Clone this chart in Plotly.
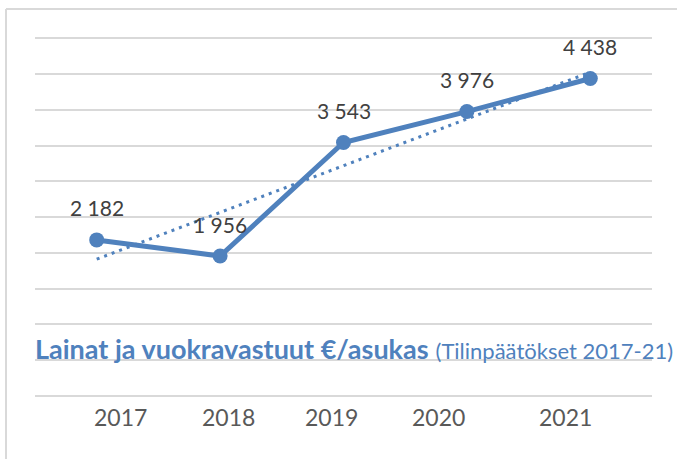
import numpy as np
import plotly.graph_objects as go

years = ["2017", "2018", "2019", "2020", "2021"]
values = [2182, 1956, 3543, 3976, 4438]
title_main = "Lainat ja vuokravastuut €/asukas"
title_sub = "(Tilinpäätökset 2017-21)"

# label pixel offsets for the year labels (style only)
year_label_shift = [24, 8, -12, -28, -25]

BLUE = "#4F81BD"
GRID = "#D9D9D9"
FONT = "Lato"

W, H = 677, 459
ML, MR, MT, MB = 35, 25, 35, 63
pw, ph = W - ML - MR, H - MT - MB

idx = np.arange(1, len(values) + 1)
slope, intercept = np.polyfit(idx, values, 1)
trend = slope * idx + intercept

fig = go.Figure()
fig.add_trace(go.Scatter(x=years, y=trend, mode="lines",
                         line=dict(color=BLUE, width=3, dash="3px,5px"),
                         hoverinfo="skip", showlegend=False))
fig.add_trace(go.Scatter(x=years, y=values, mode="lines+markers",
                         line=dict(color=BLUE, width=5),
                         marker=dict(color=BLUE, size=15),
                         showlegend=False))

annotations = []
for i, v in enumerate(values):
    annotations.append(dict(x=i, y=v, xref="x", yref="y",
                            text=f"{v:,}".replace(",", "\u00a0"),
                            showarrow=False, yshift=32,
                            font=dict(family=FONT, size=21, color="#404040")))
for i, (y_, s) in enumerate(zip(years, year_label_shift)):
    annotations.append(dict(x=i, y=0, xref="x", yref="y", text=y_,
                            showarrow=False, yshift=-21, xshift=s,
                            font=dict(family=FONT, size=23, color="#595959")))
annotations.append(dict(x=(33 - ML) / pw, y=(H - MB - 348) / ph, xref="paper", yref="paper",
                        text=f"<b>{title_main}</b> <span style='font-size:22px'>{title_sub}</span>",
                        showarrow=False, xanchor="left", yanchor="middle",
                        font=dict(family=FONT, size=27, color=BLUE)))

shapes = [
    dict(type="line", xref="paper", yref="paper",
         x0=(6 - ML) / pw, x1=(6 - ML) / pw, y0=(H - MB - H) / ph, y1=(H - MB - 9) / ph,
         line=dict(color=GRID, width=2)),
    dict(type="line", xref="paper", yref="paper",
         x0=(6 - ML) / pw, x1=(W - ML) / pw, y0=(H - MB - 9) / ph, y1=(H - MB - 9) / ph,
         line=dict(color=GRID, width=2)),
]

fig.update_layout(
    width=W, height=H,
    margin=dict(l=ML, r=MR, t=MT, b=MB),
    paper_bgcolor="white", plot_bgcolor="white",
    annotations=annotations, shapes=shapes,
    xaxis=dict(type="category", showgrid=False, showline=False, showticklabels=False,
               ticks="", range=[-0.5, 4.5]),
    yaxis=dict(range=[0, 5046], tick0=0, dtick=500, showticklabels=False, ticks="",
               showgrid=True, gridcolor=GRID, gridwidth=2,
               zeroline=True, zerolinecolor=GRID, zerolinewidth=2, showline=False),
)
fig.write_html("out.html", config={"displayModeBar": False},
               post_script="document.body.style.margin='0px';")
